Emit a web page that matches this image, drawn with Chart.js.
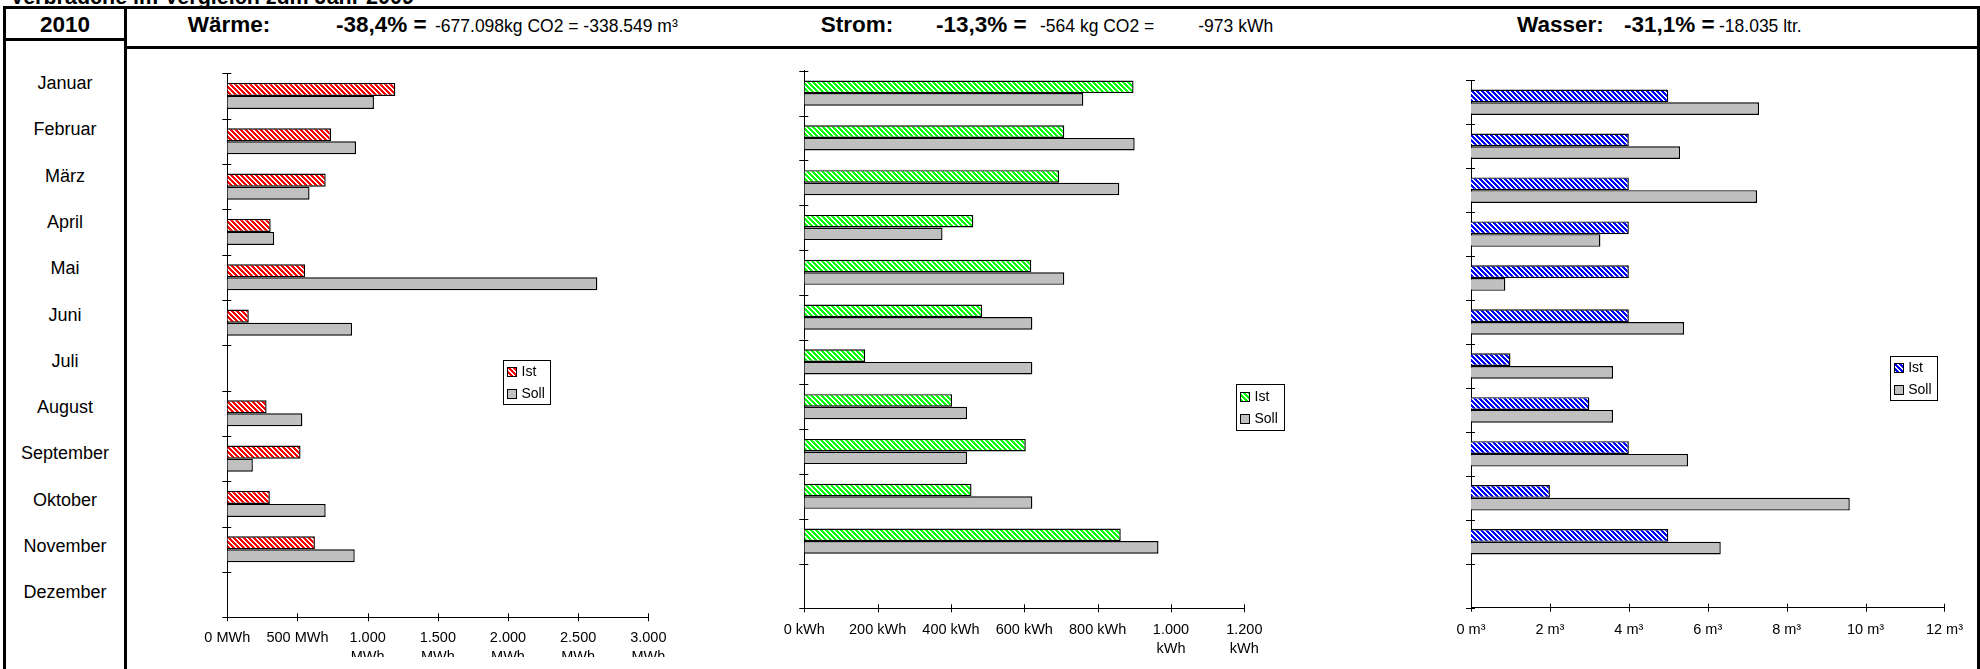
<!DOCTYPE html>
<html><head><meta charset="utf-8">
<script src="https://cdn.jsdelivr.net/npm/chart.js@4.4.1/dist/chart.umd.min.js"></script>
<style>
html,body{margin:0;padding:0;background:#fff;}
body{width:1980px;height:669px;position:relative;overflow:hidden;font-family:"Liberation Sans",Arial,sans-serif;color:#000;}
.ln{position:absolute;background:#000;z-index:5;}
.t{position:absolute;white-space:nowrap;line-height:1;}
.b{font-weight:bold;font-size:22.5px;top:14px;}
.r{font-size:17.5px;top:18.2px;}
canvas{position:absolute;}
#months{position:absolute;left:6px;width:118px;top:60.2px;}
#months div{height:46.27px;line-height:46.27px;text-align:center;font-size:18px;white-space:nowrap;}
</style></head>
<body>
<div class="t" style="left:10px;top:-13.5px;font-weight:bold;font-size:21.5px;">Verbräuche im Vergleich zum Jahr 2009</div>

<div class="ln" style="left:3px;top:6px;width:1977px;height:3px;"></div>
<div class="ln" style="left:3px;top:6px;width:3px;height:663px;"></div>
<div class="ln" style="left:124px;top:6px;width:3px;height:663px;"></div>
<div class="ln" style="left:1977px;top:6px;width:3px;height:663px;"></div>
<div class="ln" style="left:3px;top:37.5px;width:124px;height:3px;"></div>
<div class="ln" style="left:124px;top:46px;width:1856px;height:3px;"></div>

<div class="t b" style="left:6px;width:118px;text-align:center;">2010</div>
<div class="t b" style="left:187.7px;">Wärme:</div>
<div class="t b" style="left:336px;">-38,4% =</div>
<div class="t r" style="left:435px;">-677.098kg CO2 = -338.549 m³</div>
<div class="t b" style="left:820.7px;">Strom:</div>
<div class="t b" style="left:936px;">-13,3% =</div>
<div class="t r" style="left:1040px;">-564 kg CO2 =</div>
<div class="t r" style="left:1198.3px;">-973 kWh</div>
<div class="t b" style="left:1517px;">Wasser:</div>
<div class="t b" style="left:1624px;">-31,1% =</div>
<div class="t r" style="left:1719px;">-18.035 ltr.</div>

<div id="months"></div>

<canvas id="cW" width="630" height="617" style="left:130px;top:40px;"></canvas>
<canvas id="cS" width="530" height="629" style="left:770px;top:40px;"></canvas>
<canvas id="cA" width="676" height="619" style="left:1300px;top:50px;"></canvas>

<script>
const categories = ['Januar','Februar','März','April','Mai','Juni','Juli','August','September','Oktober','November','Dezember'];
const seriesLabels = ['Ist','Soll'];
const waermeIst  = [1197, 739, 701, 309, 554, 153, null, 280, 522, 303, 624, null];
const waermeSoll = [1045, 917, 586, 334, 2637, 889, null, 535, 182, 701, 908, null];
const stromIst   = [898, 709, 695, 461, 619, 485, 166, 403, 604, 456, 863, null];
const stromSoll  = [761, 901, 859, 377, 709, 622, 622, 444, 444, 622, 966, null];
const wasserIst  = [5, 4, 4, 4, 4, 4, 1, 3, 4, 2, 5, null];
const wasserSoll = [7.3, 5.3, 7.25, 3.28, 0.87, 5.4, 3.6, 3.6, 5.5, 9.6, 6.33, null];
const waermeTicks = ['0 MWh','500 MWh','1.000|MWh','1.500|MWh','2.000|MWh','2.500|MWh','3.000|MWh'];
const stromTicks  = ['0 kWh','200 kWh','400 kWh','600 kWh','800 kWh','1.000|kWh','1.200|kWh'];
const wasserTicks = ['0 m³','2 m³','4 m³','6 m³','8 m³','10 m³','12 m³'];

const mc = document.getElementById('months');
categories.forEach(c => { const d = document.createElement('div'); d.textContent = c; mc.appendChild(d); });

Chart.defaults.font.family = '"Liberation Sans", Arial, sans-serif';
Chart.defaults.color = '#000';

function makeHatch(color) {
  const n = 5;
  const c = document.createElement('canvas');
  c.width = n; c.height = n;
  const g = c.getContext('2d');
  g.fillStyle = '#fff'; g.fillRect(0, 0, n, n);
  g.fillStyle = color;
  for (let y = 0; y < n; y++) for (let x = 0; x < n; x++) {
    if ((((x - y) % n) + n) % n < 3) g.fillRect(x, y, 1, 1);
  }
  return g.createPattern(c, 'repeat');
}

const crossTicks = {
  id: 'crossTicks',
  afterDraw(chart) {
    const ctx = chart.ctx, xs = chart.scales.x, ys = chart.scales.y;
    ctx.save();
    ctx.strokeStyle = '#000'; ctx.lineWidth = 1;
    ctx.beginPath();
    xs.ticks.forEach((t, i) => {
      const px = Math.round(xs.getPixelForTick(i)) + 0.5;
      ctx.moveTo(px, ys.bottom - 4); ctx.lineTo(px, ys.bottom + 4);
    });
    for (let i = 0; i <= ys.ticks.length; i++) {
      const py = Math.round(ys.getPixelForValue(i - 0.5)) + 0.5;
      ctx.moveTo(xs.left - 5, py); ctx.lineTo(xs.left + 4, py);
    }
    ctx.stroke();
    ctx.restore();
  }
};

const boxLegend = {
  id: 'boxLegend',
  afterDraw(chart, args, o) {
    const ctx = chart.ctx;
    ctx.save();
    ctx.fillStyle = '#fff'; ctx.fillRect(o.x, o.y, o.w, o.h);
    ctx.strokeStyle = '#000'; ctx.lineWidth = 1;
    ctx.strokeRect(Math.round(o.x) + 0.5, Math.round(o.y) + 0.5, Math.round(o.w), Math.round(o.h));
    ctx.font = '14px "Liberation Sans", Arial, sans-serif';
    ctx.textBaseline = 'middle';
    chart.data.datasets.forEach((ds, i) => {
      const cy = Math.round(o.y + o.rows[i]);
      const sx = Math.round(o.x + 4);
      ctx.fillStyle = ds.backgroundColor;
      ctx.fillRect(sx, cy - 5, 9, 9);
      ctx.strokeStyle = '#000';
      ctx.strokeRect(sx + 0.5, cy - 4.5, 9, 9);
      ctx.fillStyle = '#000';
      ctx.fillText(ds.label, o.x + 18.5, cy + 0.5);
    });
    ctx.restore();
  }
};

function panel(id, ist, soll, istColor, max, step, tickLabels, geo) {
  new Chart(document.getElementById(id), {
    type: 'bar',
    data: {
      labels: categories,
      datasets: [
        { label: seriesLabels[0], data: ist, backgroundColor: makeHatch(istColor), borderColor: '#000', borderWidth: 1.4 },
        { label: seriesLabels[1], data: soll, backgroundColor: '#C0C0C0', borderColor: '#000', borderWidth: 1.4 }
      ]
    },
    options: {
      indexAxis: 'y', responsive: false, animation: false, devicePixelRatio: 1,
      datasets: { bar: { categoryPercentage: geo.cat, barPercentage: 1 } },
      layout: { padding: { left: 0, top: geo.top, right: geo.right, bottom: 0 } },
      plugins: { legend: { display: false }, tooltip: { enabled: false }, boxLegend: geo.legend },
      scales: {
        x: {
          min: 0, max: max,
          ticks: { stepSize: step, autoSkip: false, maxRotation: 0, minRotation: 0, padding: geo.pad, color: '#000',
                   font: { size: 14.5, lineHeight: 1.29 },
                   callback: (v, i) => tickLabels[i].split('|') },
          grid: { display: false, drawTicks: false, tickLength: 0 },
          border: { display: true, color: '#000', width: 1 },
          afterFit: s => { s.height = geo.xh; }
        },
        y: {
          ticks: { display: false },
          grid: { display: false, drawTicks: false, tickLength: 0 },
          border: { display: true, color: '#000', width: 1 },
          afterFit: s => { s.width = geo.yw; }
        }
      }
    },
    plugins: [crossTicks, boxLegend]
  });
}

panel('cW', waermeIst, waermeSoll, '#FF0000', 3000, 500, waermeTicks,
  { top: 33.3, right: 111.7, yw: 97.3, xh: 39.7, pad: 11.3, cat: 0.574,
    legend: { x: 373, y: 320, w: 47, h: 44, rows: [12, 34] } });
panel('cS', stromIst, stromSoll, '#00FF00', 1200, 200, stromTicks,
  { top: 30.7, right: 55.7, yw: 34.3, xh: 60.7, pad: 12.3, cat: 0.56,
    legend: { x: 466, y: 344.3, w: 47.6, h: 45.7, rows: [12.4, 35] } });
panel('cA', wasserIst, wasserSoll, '#0000FF', 12, 2, wasserTicks,
  { top: 30.3, right: 28, yw: 171, xh: 61.3, pad: 13, cat: 0.578,
    legend: { x: 589.7, y: 305.7, w: 47.3, h: 44.3, rows: [12, 34] } });
</script>
</body></html>
